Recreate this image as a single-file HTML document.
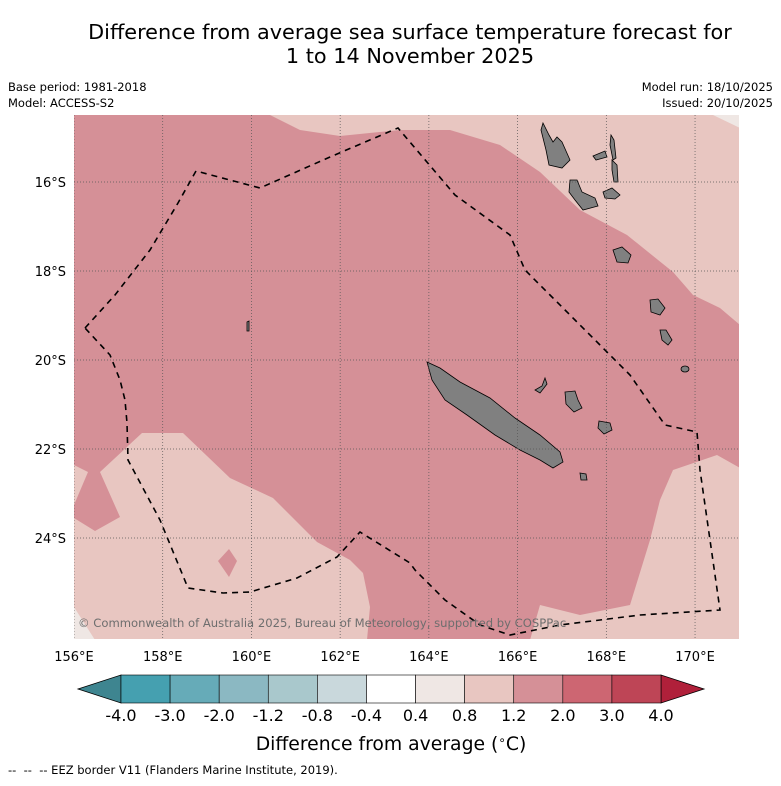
<!DOCTYPE html>
<html><head><meta charset="utf-8"><style>
body{margin:0;background:#fff;font-family:"Liberation Sans","DejaVu Sans",sans-serif;}
svg text{font-family:"DejaVu Sans","Liberation Sans",sans-serif;}
</style></head><body>
<svg id="chart" width="781" height="781" viewBox="0 0 781 781" xmlns="http://www.w3.org/2000/svg">
<text x="410" y="39" font-size="20.8" text-anchor="middle">Difference from average sea surface temperature forecast for</text>
<text x="410" y="63" font-size="20.8" text-anchor="middle">1 to 14 November 2025</text>
<text x="8" y="91" font-size="11.5">Base period: 1981-2018</text>
<text x="8" y="107" font-size="11.5">Model: ACCESS-S2</text>
<text x="773" y="91" font-size="11.5" text-anchor="end">Model run: 18/10/2025</text>
<text x="773" y="107" font-size="11.5" text-anchor="end">Issued: 20/10/2025</text>
<defs><clipPath id="mapclip"><rect x="74" y="115" width="665" height="524"/></clipPath></defs>
<g clip-path="url(#mapclip)">
<rect x="74" y="115" width="665" height="524" fill="#d59097"/>
<polygon fill="#e8c6c1" points="270,115 300,130 340,136 400,130 450,130 500,145 540,172 580,210 627,235 673,272 693,295 720,308 740,325 740,115"/>
<polygon fill="#efe7e4" points="713,115 740,115 740,128"/>
<polygon fill="#e8c6c1" points="74,640 74,518 95,531 120,517 100,472 142,433 183,433 230,478 273,498 317,542 350,560 363,573 370,607 367,640"/>
<polygon fill="#e8c6c1" points="74,465 88,472 74,505"/>
<polygon fill="#d59097" points="229,549 237,561 229,577 218,561"/>
<polygon fill="#efe7e4" points="74,607 95,640 74,640"/>
<polygon fill="#e8c6c1" points="530,640 540,605 580,615 630,605 650,540 660,500 673,470 717,455 740,468 740,640"/>
<g fill="#808080" stroke="#000" stroke-width="0.8">
<polygon points="427,362 440,368 460,382 490,398 515,418 540,435 560,452 563,462 553,468 540,460 520,450 495,435 467,415 445,400 432,380"/>
<polygon points="545,378 547,384 540,393 535,390 542,386"/>
<polygon points="565,392 575,391 578,400 582,408 574,412 566,404"/>
<polygon points="599,421 610,423 612,430 604,434 598,428"/>
<polygon points="580,473 586,474 587,480 581,480"/>
<polygon points="543,123 549,135 553,142 557,137 562,142 570,160 562,168 549,165 546,150 541,130"/>
<polygon points="570,180 577,180 582,192 595,198 598,206 583,210 575,200 569,192"/>
<polygon points="593,156 605,151 607,157 596,160"/>
<polygon points="611,135 614,140 616,158 613,160 610,145"/>
<polygon points="612,160 617,165 618,182 614,182 612,170"/>
<polygon points="603,192 612,188 620,195 615,199 605,198"/>
<polygon points="613,250 622,247 631,255 628,263 617,262"/>
<polygon points="650,300 658,299 665,308 660,315 651,312"/>
<polygon points="660,330 666,330 672,340 668,345 662,340"/>
<ellipse cx="685" cy="369" rx="4" ry="3"/>
<polygon points="247,322 249,321 249,331 247,331"/>
</g>
<g stroke="#555" stroke-width="0.7" stroke-dasharray="1,2" id="grid"></g>
<polyline fill="none" stroke="#000" stroke-width="1.6" stroke-dasharray="6,5" points="85,328 115,295 150,250 178,203 196,171 260,188 330,157 398,128 455,195 510,235 525,270 550,295 575,320 600,345 630,375 665,425 697,432 700,470 710,540 720,610 640,615 560,625 510,635 480,625 445,600 415,570 410,563 360,532 337,557 297,578 250,592 223,593 188,588 160,520 128,460 127,423 125,400 120,380 110,355 85,328"/>
<text x="78" y="627" font-size="11.6" fill="#6e6e6e">© Commonwealth of Australia 2025, Bureau of Meteorology, supported by COSPPac</text>
</g>
<g id="axes"></g>
<g id="cbar"></g>
<text x="391" y="750" font-size="18.8" text-anchor="middle">Difference from average (<tspan font-size="12" dy="-6">∘</tspan><tspan dy="6">C)</tspan></text>
<text x="8" y="774" font-size="11.5" xml:space="preserve">--  --  -- EEZ border V11 (Flanders Marine Institute, 2019).</text>
</svg>
<script>
const lonTicks=[156,158,160,162,164,166,168,170];
const latTicks=[16,18,20,22,24];
const cbBounds=["-4.0","-3.0","-2.0","-1.2","-0.8","-0.4","0.4","0.8","1.2","2.0","3.0","4.0"];
const cbColors=["#45a0b0","#66abb8","#8bb8c2","#a9c8cc","#c9d8dc","#ffffff","#efe7e4","#e8c6c1","#d59097","#cd6672","#be4556"];
const NS="http://www.w3.org/2000/svg";
function lx(lon){return 74+(lon-156)*44.36;}
function ly(lat){return 182+(lat-16)*44.5;}
function mk(t,a,p){const e=document.createElementNS(NS,t);for(const k in a)e.setAttribute(k,a[k]);p.appendChild(e);return e;}
const grid=document.getElementById('grid'),axes=document.getElementById('axes'),cb=document.getElementById('cbar');
lonTicks.forEach(v=>{
 const l=mk('line',{x1:lx(v),x2:lx(v),y1:115,y2:639},grid);
 
 
 const t=mk('text',{x:lx(v),y:661,'font-size':13,'text-anchor':'middle'},axes);
 t.textContent=v+'°E';
 
 
});
latTicks.forEach(v=>{
 const l=mk('line',{x1:74,x2:739,y1:ly(v),y2:ly(v)},grid);
 
 
 const t=mk('text',{x:66,y:ly(v)+5,'font-size':13,'text-anchor':'end'},axes);
 t.textContent=v+'°S';
 
 
});
const cx0=121,cx1=661,cy=675,ch=28,n=cbColors.length,w=(cx1-cx0)/n;
const lt=mk('polygon',{points:`${cx0},${cy} ${cx0},${cy+ch} 78,${cy+ch/2}`,fill:'#3e8590',stroke:'#000','stroke-width':0.8},cb);


const rt=mk('polygon',{points:`${cx1},${cy} ${cx1},${cy+ch} 704,${cy+ch/2}`,fill:'#b0203a',stroke:'#000','stroke-width':0.8},cb);


cbColors.forEach((c,i)=>{
 const r=mk('rect',{x:cx0+i*w,y:cy,width:w,height:ch,fill:c,stroke:'#000','stroke-width':0.6},cb);
 
 
});
cbBounds.forEach((b,i)=>{
 const t=mk('text',{x:cx0+i*w,y:721,'font-size':16,'text-anchor':'middle'},cb);
 t.textContent=b;
 
 
});
</script>
</body></html>
